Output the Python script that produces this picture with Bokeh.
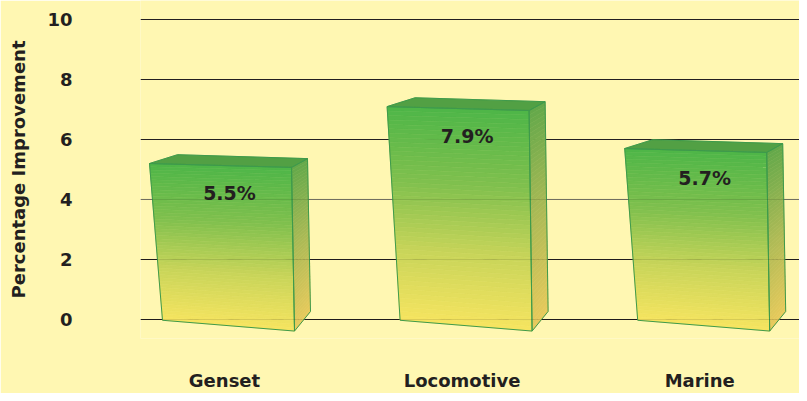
import numpy as np
from bokeh.plotting import figure
from bokeh.models import Range1d, FixedTicker, Span, Grid
from bokeh.core.properties import value
from bokeh.embed import file_html
from bokeh.resources import INLINE

# ---------------- data ----------------
categories = ["Genset", "Locomotive", "Marine"]
improvement = [5.5, 7.9, 5.7]            # printed values (%)
bar_tops = [5.2, 7.1, 5.7]               # bar heights as drawn in the picture
label_text = [f"{v}%" for v in improvement]
y_ticks = [0, 2, 4, 6, 8, 10]

# ---------------- layout / style ----------------
FONT = "DejaVu Sans"
INK = "#231F20"
BG = "#FFF7B2"
W, H = 799, 393
BORDER_L, BORDER_B = 140, 48
frame_w, frame_h = W - BORDER_L, H - BORDER_B
PX_X, PX_Y = 237.6, 30.58                # pixels per data unit
dx, dy = 1.0 / PX_X, 1.0 / PX_Y

x_start = -84.0 * dx
y_end = 10 + 19.6 * dy
p = figure(width=W, height=H, output_backend="svg", toolbar_location=None,
           x_range=Range1d(x_start, x_start + frame_w * dx),
           y_range=Range1d(y_end - frame_h * dy, y_end),
           min_border_left=BORDER_L, min_border_bottom=BORDER_B,
           min_border_top=0, min_border_right=0)
p.background_fill_color = BG
p.border_fill_color = BG
p.outline_line_color = None

# grid
p.xgrid.visible = False
p.ygrid.ticker = FixedTicker(ticks=[t for t in y_ticks if t != 4])
p.ygrid.grid_line_color = INK
p.ygrid.grid_line_width = 1
p.add_layout(Span(location=4, dimension="width", line_color="#7A7868",
                  line_width=1, level="underlay"))

# ---------------- bars ----------------
front_stops = [(0.0, (78, 182, 72)), (0.35, (128, 192, 78)),
               (0.68, (202, 213, 90)), (1.0, (246, 229, 96))]
side_stops = [(0.0, (98, 168, 74)), (0.5, (172, 186, 86)), (1.0, (232, 202, 92))]
TOP_COLOR = "#52A044"
EDGE = "#3E9A4C"


def grad(stops, t):
    for (p0, c0), (p1, c1) in zip(stops[:-1], stops[1:]):
        if t <= p1:
            f = (t - p0) / (p1 - p0)
            r, g, b = [int(round(a + (bb - a) * f)) for a, bb in zip(c0, c1)]
            return "#%02x%02x%02x" % (r, g, b)
    r, g, b = stops[-1][1]
    return "#%02x%02x%02x" % (r, g, b)


N = 48
xs_f, ys_f, col_f = [], [], []
xs_s, ys_s, col_s = [], [], []
xs_t, ys_t = [], []
out_xs, out_ys = [], []
lab_x, lab_y = [], []
xc = np.arange(len(categories), dtype=float)

for c, top in zip(xc, bar_tops):
    TL = np.array([c - 75 * dx, top])
    TR = np.array([c + 67 * dx, top - 4 * dy])
    BL = np.array([c - 62 * dx, -1 * dy])
    BR = np.array([c + 70 * dx, -12 * dy])
    TRb = TR + np.array([16 * dx, 9 * dy])
    BRb = BR + np.array([16 * dx, 20 * dy])
    TLb = TL + np.array([28 * dx, 9 * dy])
    for k in range(N):
        t0, t1 = k / N, (k + 1) / N
        L0, L1 = TL + (BL - TL) * t0, TL + (BL - TL) * t1
        R0, R1 = TR + (BR - TR) * t0, TR + (BR - TR) * t1
        xs_f.append([L0[0], R0[0], R1[0], L1[0]])
        ys_f.append([L0[1], R0[1], R1[1], L1[1]])
        col_f.append(grad(front_stops, (t0 + t1) / 2))
        S0, S1 = TRb + (BRb - TRb) * t0, TRb + (BRb - TRb) * t1
        xs_s.append([R0[0], S0[0], S1[0], R1[0]])
        ys_s.append([R0[1], S0[1], S1[1], R1[1]])
        col_s.append(grad(side_stops, (t0 + t1) / 2))
    xs_t.append([TL[0], TLb[0], TRb[0], TR[0]])
    ys_t.append([TL[1], TLb[1], TRb[1], TR[1]])
    for poly in ([TL, TR, BR, BL], [TR, TRb, BRb, BR], [TL, TLb, TRb, TR]):
        out_xs.append([q[0] for q in poly])
        out_ys.append([q[1] for q in poly])
    lab_x.append(c + 5 * dx)
    lab_y.append(top - 30 * dy)

p.patches(xs_t, ys_t, fill_color=TOP_COLOR, line_color=TOP_COLOR, line_width=0.5)
p.patches(xs_s, ys_s, fill_color=col_s, line_color=col_s, line_width=0.6)
p.patches(xs_f, ys_f, fill_color=col_f, line_color=col_f, line_width=0.6)
p.patches(out_xs, out_ys, fill_color=None, line_color=EDGE, line_width=1)

# faint grid lines seen through the bars
p.add_layout(Grid(dimension=1, ticker=FixedTicker(ticks=[0, 2, 4]),
                  grid_line_color="#000000", grid_line_alpha=0.10, level="overlay"))

p.text(lab_x, lab_y, text=label_text, text_font=value(FONT), text_font_style="bold",
       text_font_size="19px", text_align="center", text_baseline="middle",
       text_color=INK)

# ---------------- axes ----------------
for ax in (p.xaxis[0], p.yaxis[0]):
    ax.axis_line_color = None
    ax.major_tick_line_color = None
    ax.minor_tick_line_color = None
    ax.major_label_text_font = FONT
    ax.major_label_text_font_style = "bold"
    ax.major_label_text_font_size = "18px"
    ax.major_label_text_color = INK

p.xaxis.ticker = FixedTicker(ticks=list(xc))
p.xaxis.major_label_overrides = {int(i): n for i, n in enumerate(categories)}
p.xaxis.major_label_standoff = 25

p.yaxis.ticker = FixedTicker(ticks=y_ticks)
p.yaxis.major_label_standoff = 62
p.yaxis.axis_label = "Percentage Improvement"
p.yaxis.axis_label_text_font = FONT
p.yaxis.axis_label_text_font_style = "bold"
p.yaxis.axis_label_text_font_size = "18px"
p.yaxis.axis_label_text_color = INK
p.yaxis.axis_label_standoff = 15

open("out.html", "w").write(file_html(p, INLINE))
